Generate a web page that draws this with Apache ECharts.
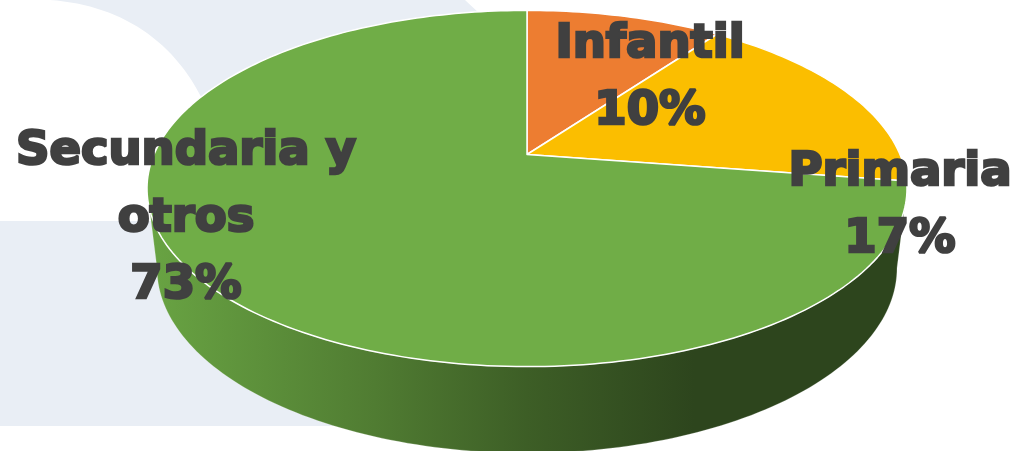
<!DOCTYPE html>
<html>
<head>
<meta charset="utf-8">
<style>html,body{margin:0;padding:0;background:#fff}#c{width:1015px;height:451px}</style>
<script src="https://cdn.jsdelivr.net/npm/echarts@6/dist/echarts.min.js"></script>
</head>
<body>
<div id="c"></div>
<script>
const categories = ['Infantil', 'Primaria', 'Secundaria y otros'];
const values = [10, 17.4, 72.6];
const colors = ['#ED7D31', '#FBBE00', '#70AD47'];
const labelCenters = [[650, 78], [900, 206], [186, 219]];

// perspective view of the disc: top face and lower rim
const K = -0.191;
const TOP = {x: 527, a: 373, c: 154.5, b: 142.1};
const LOW = {x: 527, a: 363.2, c: 232.7, b: 133.8};
const FRONT_START = 28.06, FRONT_END = 71.94;

// pale slide backdrop behind the chart, with one curved edge
const backdropStart = [[0, 221], [210, 221]];
const backdropCurve = [[205, 105], [175, 40], [120, 5], [50, 0]];
const backdropEnd = [[465, 0], [480, 14], [520, 100], [520, 426], [0, 426]];

function bezier(c) {
  const pts = [];
  for (let i = 0; i <= 60; i++) {
    const t = i / 60, m = 1 - t;
    pts.push([0, 1].map(function (d) {
      return m*m*m*c[0][d] + 3*m*m*t*c[1][d] + 3*m*t*t*c[2][d] + t*t*t*c[3][d];
    }));
  }
  return pts;
}

let run = 0;
const rows = values.map(function (v, i) {
  const r = [run, run + v, i];
  run += v;
  return r;
});
const total = run;

function unit(api, radius, val) {
  const o = api.coord([0, 0]);
  const t = api.coord([1, 0]);
  const R = Math.abs(o[1] - t[1]);
  const p = api.coord([radius, val]);
  return [(p[0] - o[0]) / R, (p[1] - o[1]) / R];
}
function project(view, u) {
  const d = 1 + K * u[1];
  return [view.x + view.a * u[0] / d, (view.c + view.b * u[1]) / d];
}
function arc(api, view, from, to) {
  const n = Math.max(2, Math.ceil(Math.abs(to - from) * 3));
  const pts = [];
  for (let i = 0; i <= n; i++) {
    pts.push(project(view, unit(api, 1, from + (to - from) * i / n)));
  }
  return pts;
}
const wallFill = new echarts.graphic.LinearGradient(0, 0, 1, 0, [
  {offset: 0, color: '#69A443'},
  {offset: 0.3, color: '#507C32'},
  {offset: 0.5, color: '#3D5E26'},
  {offset: 0.72, color: '#2D451D'},
  {offset: 1, color: '#2D451D'}
]);

const option = {
  animation: false,
  polar: {center: ['50%', '50%'], radius: 100},
  radiusAxis: {type: 'value', min: 0, max: 1, show: false},
  angleAxis: {type: 'value', min: 0, max: total, startAngle: 90, clockwise: true, show: false},
  graphic: [{
    type: 'polygon',
    z: -10,
    silent: true,
    shape: {points: backdropStart.concat(bezier(backdropCurve), backdropEnd)},
    style: {fill: '#E9EEF5'}
  }],
  series: [
    {
      type: 'custom', coordinateSystem: 'polar', data: rows, silent: true, z: 2,
      renderItem: function (params, api) {
        const s = Math.max(api.value(0), FRONT_START);
        const e = Math.min(api.value(1), FRONT_END);
        if (e <= s) return null;
        const upper = arc(api, TOP, s, e);
        const lower = arc(api, LOW, e, s);
        return {type: 'polygon', shape: {points: upper.concat(lower)},
                style: {fill: wallFill, stroke: 'rgba(255,255,255,0.35)', lineWidth: 0.6}};
      }
    },
    {
      type: 'custom', coordinateSystem: 'polar', data: rows, silent: true, z: 3,
      renderItem: function (params, api) {
        const s = api.value(0), e = api.value(1);
        const apex = project(TOP, unit(api, 0, s));
        return {type: 'polygon', shape: {points: [apex].concat(arc(api, TOP, s, e))},
                style: {fill: colors[api.value(2)], stroke: '#fff', lineWidth: 1.5, lineJoin: 'round'}};
      }
    },
    {
      type: 'custom', coordinateSystem: 'polar', data: rows, silent: true, z: 4,
      renderItem: function (params, api) {
        const i = api.value(2);
        const pct = Math.round(values[i] / total * 100) + '%';
        return {type: 'text',
          style: {
            x: labelCenters[i][0], y: labelCenters[i][1],
            text: categories[i].replace(' y ', ' y\n') + '\n' + pct,
            font: 'bold 46.5px "DejaVu Sans"',
            lineHeight: 67,
            fill: '#404040', stroke: '#404040', lineWidth: 2.6, lineJoin: 'round',
            textAlign: 'center', textVerticalAlign: 'middle'
          }};
      }
    }
  ]
};
echarts.init(document.getElementById('c'), null, {renderer: 'canvas'}).setOption(option);
</script>
</body>
</html>
